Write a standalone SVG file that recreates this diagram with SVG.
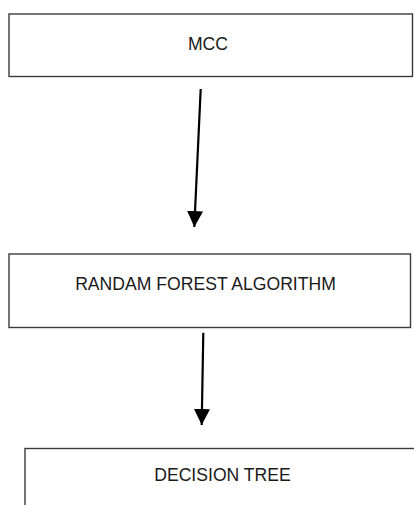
<svg xmlns="http://www.w3.org/2000/svg" width="414" height="505" viewBox="0 0 414 505">
<style>
.box{fill:#fff;stroke:#3a3a3a;stroke-width:1.4}
.lbl{font-family:"Liberation Sans",Arial,sans-serif;font-size:17.6px;fill:#1a1a1a;text-anchor:middle}
.conn{stroke:#000;stroke-width:2.2;fill:none}
</style>
<defs>
<marker id="ah" markerWidth="16" markerHeight="16" viewBox="0 0 16 16" refX="16" refY="8" orient="auto" markerUnits="userSpaceOnUse">
<path d="M0,0 L16,8 L0,16 Z" fill="#000"/>
</marker>
</defs>
<rect width="414" height="505" fill="#fff"/>
<g id="node-mcc">
<rect class="box" x="9" y="14" width="403.5" height="62.5"/>
<text class="lbl" x="208" y="49.5">MCC</text>
</g>
<g id="node-rf">
<rect class="box" x="9" y="254" width="401.5" height="73.5"/>
<text class="lbl" x="205.5" y="289.5">RANDAM FOREST ALGORITHM</text>
</g>
<g id="node-dt">
<rect class="box" x="25" y="448.5" width="400" height="70"/>
<text class="lbl" x="222.5" y="480.5">DECISION TREE</text>
</g>
<g id="connectors">
<line class="conn" x1="200.7" y1="89" x2="194.3" y2="227" marker-end="url(#ah)"/>
<line class="conn" x1="203.3" y1="332.7" x2="201.7" y2="425" marker-end="url(#ah)"/>
</g>
</svg>
